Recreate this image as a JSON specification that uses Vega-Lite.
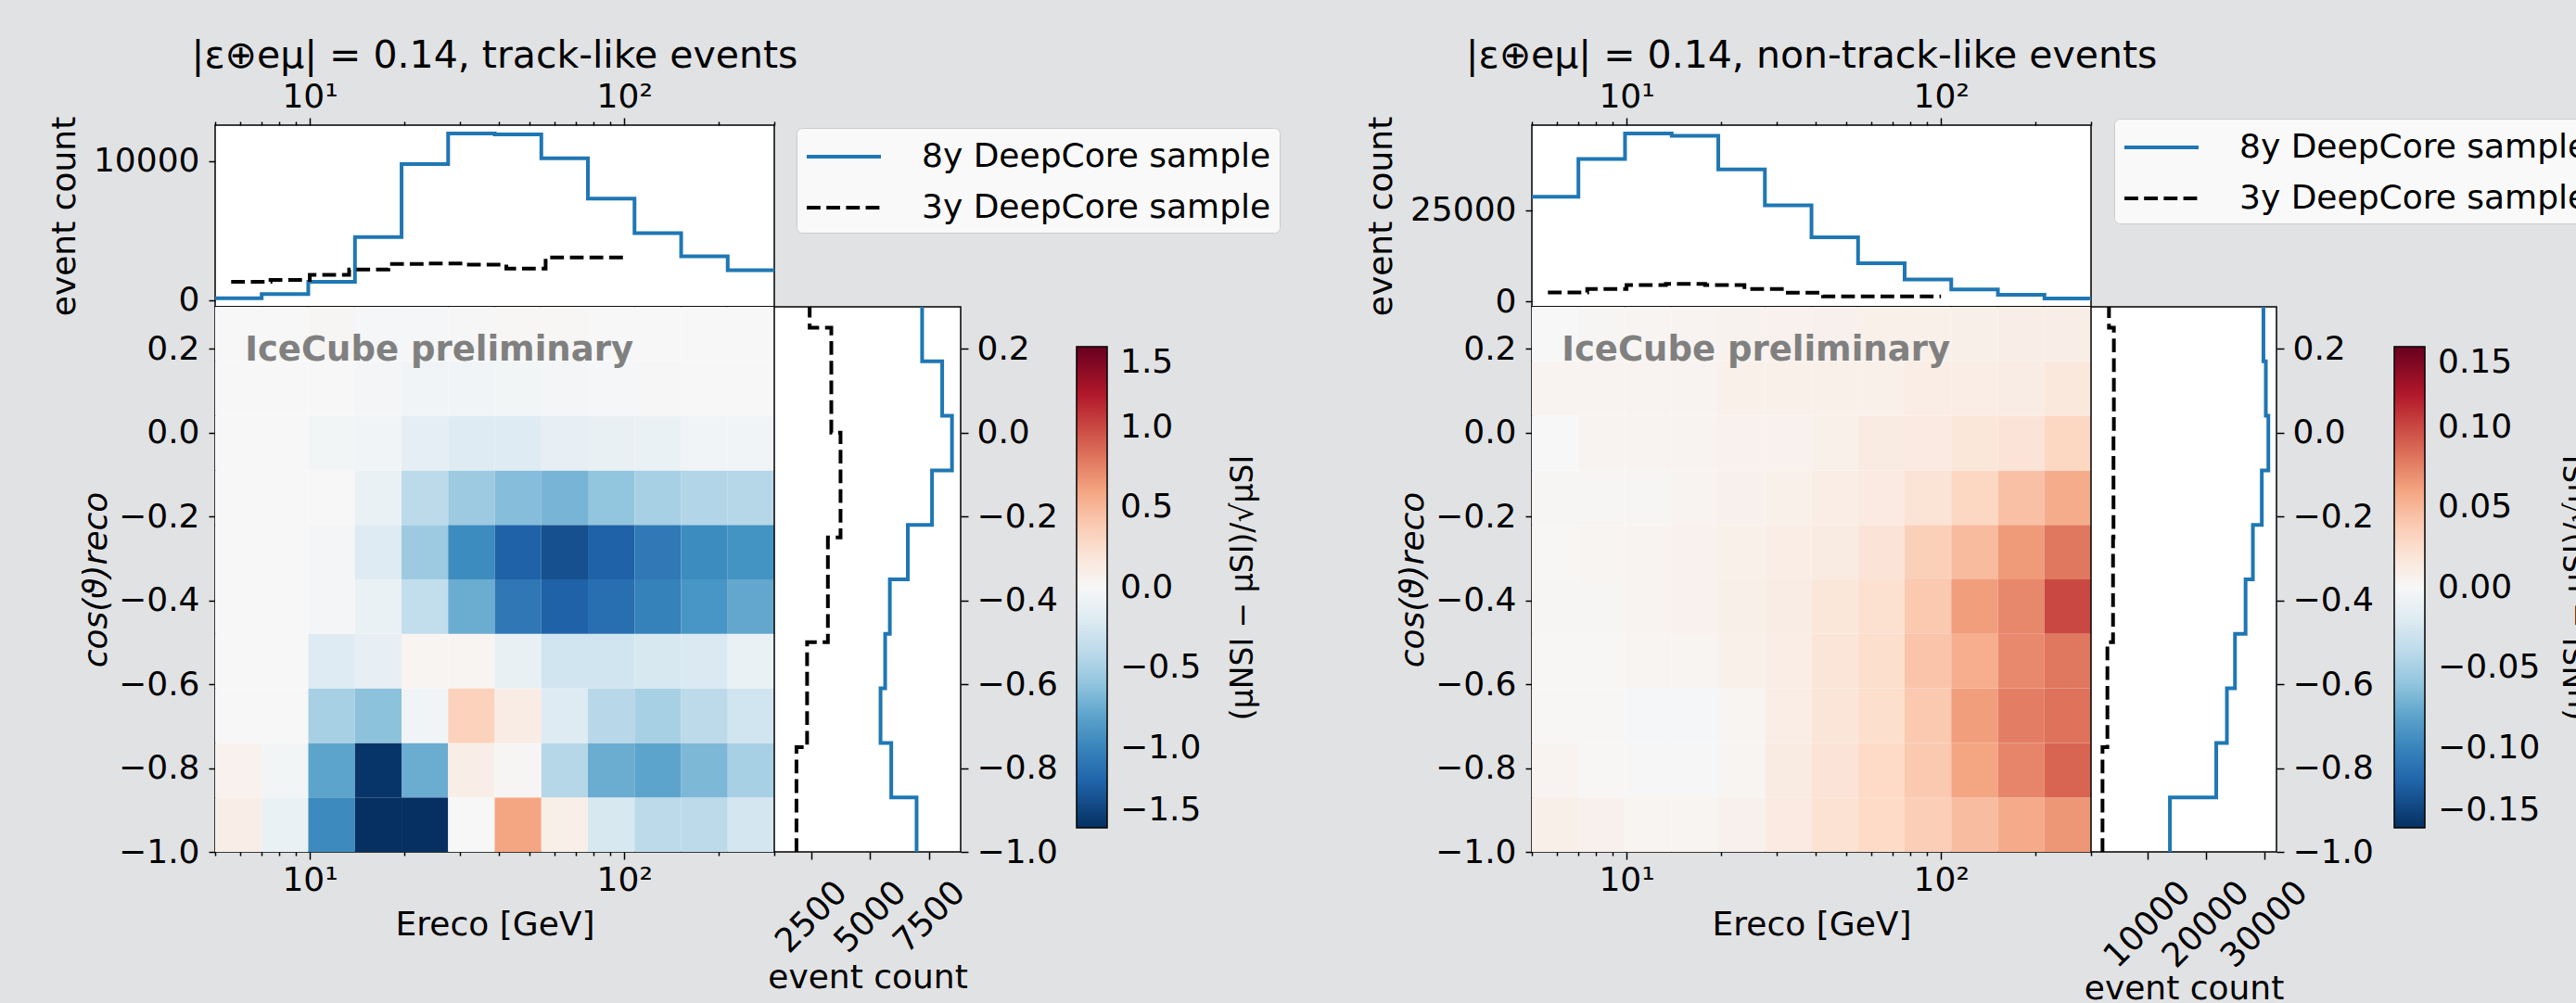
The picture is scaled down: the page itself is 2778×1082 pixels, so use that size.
{
  "$schema": "https://vega.github.io/schema/vega-lite/v6.json",
  "autosize": {"type": "none"},
  "padding": {"left": 232, "top": 135, "right": 2546, "bottom": 947},
  "background": "#e1e2e4",
  "config": {
    "font": "DejaVu Sans",
    "view": {"fill": "white", "stroke": "black", "strokeWidth": 1.5},
    "axis": {
      "domain": false, "grid": false, "ticks": true, "tickColor": "black", "tickWidth": 1.5, "tickSize": 8,
      "labelFont": "DejaVu Sans", "labelFontSize": 36, "labelColor": "black", "labelPadding": 6,
      "labelFlush": false, "labelOverlap": false,
      "titleFont": "DejaVu Sans", "titleFontSize": 36, "titleFontWeight": "normal", "titleColor": "black"
    },
    "legend": {
      "labelFont": "DejaVu Sans", "labelFontSize": 36, "labelColor": "black", "labelLimit": 1000,
      "titleFont": "DejaVu Sans", "titleFontSize": 33, "titleFontWeight": "normal", "titleColor": "black", "titleLimit": 1000
    },
    "title": {"font": "DejaVu Sans", "fontSize": 41, "fontWeight": "normal", "color": "black"}
  },
  "datasets": {
    "ebins": [
      {"k": 1, "e0": 5, "e1": 7.03}, {"k": 2, "e0": 7.03, "e1": 9.89}, {"k": 3, "e0": 9.89, "e1": 13.92},
      {"k": 4, "e0": 13.92, "e1": 19.58}, {"k": 5, "e0": 19.58, "e1": 27.54}, {"k": 6, "e0": 27.54, "e1": 38.74},
      {"k": 7, "e0": 38.74, "e1": 54.49}, {"k": 8, "e0": 54.49, "e1": 76.64}, {"k": 9, "e0": 76.64, "e1": 107.8},
      {"k": 10, "e0": 107.8, "e1": 151.7}, {"k": 11, "e0": 151.7, "e1": 213.3}, {"k": 12, "e0": 213.3, "e1": 300}
    ],
    "trackCells": [
      {"c0": -1, "c1": -0.87, "v": [0.10, -0.10, -0.96, -1.5, -1.5, 0.0, 0.60, 0.09, -0.25, -0.40, -0.40, -0.28]},
      {"c0": -0.87, "c1": -0.74, "v": [0.06, -0.04, -0.80, -1.47, -0.75, 0.10, 0.02, -0.43, -0.75, -0.80, -0.68, -0.50]},
      {"c0": -0.74, "c1": -0.61, "v": [0.0, 0.0, -0.50, -0.62, -0.05, 0.35, 0.12, -0.20, -0.42, -0.50, -0.40, -0.30]},
      {"c0": -0.61, "c1": -0.48, "v": [0.0, 0.0, -0.20, -0.13, 0.03, 0.03, -0.12, -0.30, -0.30, -0.25, -0.22, -0.10]},
      {"c0": -0.48, "c1": -0.35, "v": [0.0, 0.0, -0.03, -0.10, -0.37, -0.75, -1.08, -1.22, -1.14, -1.02, -0.88, -0.78]},
      {"c0": -0.35, "c1": -0.22, "v": [0.0, 0.0, -0.03, -0.20, -0.55, -0.95, -1.22, -1.32, -1.22, -1.07, -0.95, -0.90]},
      {"c0": -0.22, "c1": -0.09, "v": [0.0, 0.0, 0.0, -0.10, -0.40, -0.55, -0.65, -0.70, -0.60, -0.50, -0.45, -0.43]},
      {"c0": -0.09, "c1": 0.04, "v": [0.0, 0.0, -0.04, -0.05, -0.15, -0.20, -0.20, -0.13, -0.11, -0.10, -0.05, -0.05]},
      {"c0": 0.04, "c1": 0.17, "v": [0.0, 0.0, 0.0, -0.03, -0.05, -0.05, -0.04, -0.03, -0.02, -0.01, 0.0, 0.0]},
      {"c0": 0.17, "c1": 0.3, "v": [0.0, 0.0, 0.02, -0.02, -0.02, -0.01, 0.01, 0.01, 0.0, 0.0, 0.0, 0.0]}
    ],
    "cascCells": [
      {"c0": -1, "c1": -0.87, "v": [0.009, 0.007, 0.003, 0.003, 0.007, 0.014, 0.023, 0.030, 0.037, 0.047, 0.057, 0.066]},
      {"c0": -0.87, "c1": -0.74, "v": [0.004, 0.001, -0.001, -0.001, 0.003, 0.013, 0.020, 0.030, 0.040, 0.060, 0.074, 0.088]},
      {"c0": -0.74, "c1": -0.61, "v": [0.001, 0.001, -0.002, -0.002, 0.003, 0.011, 0.019, 0.026, 0.040, 0.063, 0.077, 0.082]},
      {"c0": -0.61, "c1": -0.48, "v": [0.001, 0.001, 0.003, 0.003, 0.008, 0.011, 0.019, 0.026, 0.043, 0.055, 0.072, 0.080]},
      {"c0": -0.48, "c1": -0.35, "v": [0.002, 0.002, 0.004, 0.006, 0.009, 0.012, 0.018, 0.024, 0.040, 0.063, 0.073, 0.100]},
      {"c0": -0.35, "c1": -0.22, "v": [0.001, 0.003, 0.004, 0.006, 0.008, 0.011, 0.013, 0.020, 0.036, 0.048, 0.065, 0.080]},
      {"c0": -0.22, "c1": -0.09, "v": [0.002, 0.002, 0.002, 0.004, 0.007, 0.008, 0.011, 0.014, 0.021, 0.032, 0.045, 0.056]},
      {"c0": -0.09, "c1": 0.04, "v": [0.0, 0.004, 0.004, 0.004, 0.006, 0.006, 0.008, 0.013, 0.014, 0.018, 0.020, 0.032]},
      {"c0": 0.04, "c1": 0.17, "v": [0.004, 0.004, 0.004, 0.004, 0.008, 0.008, 0.008, 0.008, 0.011, 0.011, 0.012, 0.016]},
      {"c0": 0.17, "c1": 0.3, "v": [0.0, 0.002, 0.003, 0.004, 0.005, 0.006, 0.007, 0.008, 0.008, 0.009, 0.010, 0.010]}
    ],
    "trackE": [
      {"s": "8y DeepCore sample", "E": 5, "n": 133}, {"s": "8y DeepCore sample", "E": 7.03, "n": 420},
      {"s": "8y DeepCore sample", "E": 9.89, "n": 1307}, {"s": "8y DeepCore sample", "E": 13.92, "n": 4533},
      {"s": "8y DeepCore sample", "E": 19.58, "n": 9800}, {"s": "8y DeepCore sample", "E": 27.54, "n": 12000},
      {"s": "8y DeepCore sample", "E": 38.74, "n": 11933}, {"s": "8y DeepCore sample", "E": 54.49, "n": 10220},
      {"s": "8y DeepCore sample", "E": 76.64, "n": 7307}, {"s": "8y DeepCore sample", "E": 107.8, "n": 4820},
      {"s": "8y DeepCore sample", "E": 151.7, "n": 3153}, {"s": "8y DeepCore sample", "E": 213.3, "n": 2153},
      {"s": "8y DeepCore sample", "E": 300, "n": 2153},
      {"s": "3y DeepCore sample", "E": 5.623, "n": 1307}, {"s": "3y DeepCore sample", "E": 7.499, "n": 1440},
      {"s": "3y DeepCore sample", "E": 10, "n": 1820}, {"s": "3y DeepCore sample", "E": 13.34, "n": 2200},
      {"s": "3y DeepCore sample", "E": 17.78, "n": 2600}, {"s": "3y DeepCore sample", "E": 23.71, "n": 2640},
      {"s": "3y DeepCore sample", "E": 31.62, "n": 2553}, {"s": "3y DeepCore sample", "E": 42.17, "n": 2267},
      {"s": "3y DeepCore sample", "E": 56.23, "n": 3067}, {"s": "3y DeepCore sample", "E": 74.99, "n": 3067},
      {"s": "3y DeepCore sample", "E": 100, "n": 3067}
    ],
    "cascE": [
      {"s": "8y DeepCore sample", "E": 5, "n": 28600}, {"s": "8y DeepCore sample", "E": 7.03, "n": 38900},
      {"s": "8y DeepCore sample", "E": 9.89, "n": 45870}, {"s": "8y DeepCore sample", "E": 13.92, "n": 45200},
      {"s": "8y DeepCore sample", "E": 19.58, "n": 36070}, {"s": "8y DeepCore sample", "E": 27.54, "n": 26260},
      {"s": "8y DeepCore sample", "E": 38.74, "n": 17530}, {"s": "8y DeepCore sample", "E": 54.49, "n": 10490},
      {"s": "8y DeepCore sample", "E": 76.64, "n": 6060}, {"s": "8y DeepCore sample", "E": 107.8, "n": 3370},
      {"s": "8y DeepCore sample", "E": 151.7, "n": 1860}, {"s": "8y DeepCore sample", "E": 213.3, "n": 855},
      {"s": "8y DeepCore sample", "E": 300, "n": 855},
      {"s": "3y DeepCore sample", "E": 5.623, "n": 2540}, {"s": "3y DeepCore sample", "E": 7.499, "n": 3450},
      {"s": "3y DeepCore sample", "E": 10, "n": 4550}, {"s": "3y DeepCore sample", "E": 13.34, "n": 4880},
      {"s": "3y DeepCore sample", "E": 17.78, "n": 4550}, {"s": "3y DeepCore sample", "E": 23.71, "n": 3450},
      {"s": "3y DeepCore sample", "E": 31.62, "n": 2440}, {"s": "3y DeepCore sample", "E": 42.17, "n": 1430},
      {"s": "3y DeepCore sample", "E": 56.23, "n": 1430}, {"s": "3y DeepCore sample", "E": 74.99, "n": 1430},
      {"s": "3y DeepCore sample", "E": 100, "n": 1430}
    ],
    "trackC": [
      {"s": "8y DeepCore sample", "c": -1, "n": 6963}, {"s": "8y DeepCore sample", "c": -0.87, "n": 5890},
      {"s": "8y DeepCore sample", "c": -0.74, "n": 5436}, {"s": "8y DeepCore sample", "c": -0.61, "n": 5632},
      {"s": "8y DeepCore sample", "c": -0.48, "n": 5830}, {"s": "8y DeepCore sample", "c": -0.35, "n": 6591},
      {"s": "8y DeepCore sample", "c": -0.22, "n": 7617}, {"s": "8y DeepCore sample", "c": -0.09, "n": 8463},
      {"s": "8y DeepCore sample", "c": 0.04, "n": 8048}, {"s": "8y DeepCore sample", "c": 0.17, "n": 7198},
      {"s": "8y DeepCore sample", "c": 0.3, "n": 7198},
      {"s": "3y DeepCore sample", "c": -1, "n": 1874}, {"s": "3y DeepCore sample", "c": -0.75, "n": 2324},
      {"s": "3y DeepCore sample", "c": -0.5, "n": 3205}, {"s": "3y DeepCore sample", "c": -0.25, "n": 3741},
      {"s": "3y DeepCore sample", "c": 0, "n": 3350}, {"s": "3y DeepCore sample", "c": 0.25, "n": 2433},
      {"s": "3y DeepCore sample", "c": 0.5, "n": 2433}
    ],
    "cascC": [
      {"s": "8y DeepCore sample", "c": -1, "n": 13887}, {"s": "8y DeepCore sample", "c": -0.87, "n": 21800},
      {"s": "8y DeepCore sample", "c": -0.74, "n": 23620}, {"s": "8y DeepCore sample", "c": -0.61, "n": 25000},
      {"s": "8y DeepCore sample", "c": -0.48, "n": 26810}, {"s": "8y DeepCore sample", "c": -0.35, "n": 28060},
      {"s": "8y DeepCore sample", "c": -0.22, "n": 29580}, {"s": "8y DeepCore sample", "c": -0.09, "n": 30700},
      {"s": "8y DeepCore sample", "c": 0.04, "n": 30270}, {"s": "8y DeepCore sample", "c": 0.17, "n": 29860},
      {"s": "8y DeepCore sample", "c": 0.3, "n": 29860},
      {"s": "3y DeepCore sample", "c": -1, "n": 2370}, {"s": "3y DeepCore sample", "c": -0.75, "n": 3206},
      {"s": "3y DeepCore sample", "c": -0.5, "n": 4170}, {"s": "3y DeepCore sample", "c": -0.25, "n": 4250},
      {"s": "3y DeepCore sample", "c": 0, "n": 4312}, {"s": "3y DeepCore sample", "c": 0.25, "n": 3475},
      {"s": "3y DeepCore sample", "c": 0.5, "n": 3475}
    ]
  },
  "columns": 4,
  "spacing": 0,
  "bounds": "flush",
  "align": "each",
  "resolve": {
    "scale": {"fill": "independent", "stroke": "independent", "strokeDash": "independent"},
    "legend": {"fill": "independent", "stroke": "independent", "strokeDash": "independent"}
  },
  "concat": [
    {
      "width": 603, "height": 196,
      "title": {"text": "|ε⊕eμ| = 0.14, track-like events", "anchor": "middle", "offset": 4},
      "data": {"name": "trackE"},
      "resolve": {"axis": {"x": "independent"}},
      "layer": [
        {
          "mark": {"type": "line", "interpolate": "step-after", "strokeWidth": 4, "clip": true},
          "encoding": {
            "x": {"field": "E", "type": "quantitative", "scale": {"type": "log", "domain": [5, 300], "nice": false},
                  "axis": {"orient": "top", "values": [10, 100], "labelExpr": "datum.value == 10 ? '10¹' : '10²'", "title": null, "labelPadding": 4}},
            "y": {"field": "n", "type": "quantitative", "scale": {"domain": [-490, 12600], "nice": false, "zero": false},
                  "axis": {"values": [0, 10000], "format": "d", "title": "event count", "titleX": -152, "titleBaseline": "alphabetic", "tickSize": 7, "labelPadding": 10}},
            "stroke": {"field": "s", "type": "nominal", "sort": null,
                       "scale": {"domain": ["8y DeepCore sample", "3y DeepCore sample"], "range": ["#1f77b4", "#000000"]},
                       "legend": {"orient": "none", "legendX": 627, "legendY": 3, "title": null, "symbolType": "M-2,0H2", "symbolSize": 1600, "symbolStrokeWidth": 4, "symbolOffset": 20, "labelOffset": 62, "padding": 9, "rowPadding": 15, "fillColor": "rgba(255,255,255,0.8)", "strokeColor": "#cccccc", "cornerRadius": 6}},
            "strokeDash": {"field": "s", "type": "nominal", "sort": null,
                           "scale": {"domain": ["8y DeepCore sample", "3y DeepCore sample"], "range": [[1, 0], [14.8, 6.4]]},
                           "legend": {"orient": "none", "legendX": 627, "legendY": 3, "title": null, "symbolType": "M-2,0H2", "symbolSize": 1600, "symbolStrokeWidth": 4, "symbolOffset": 20, "labelOffset": 62, "padding": 9, "rowPadding": 15, "fillColor": "rgba(255,255,255,0.8)", "strokeColor": "#cccccc", "cornerRadius": 6}}
          }
        },
        {
          "mark": {"type": "line", "opacity": 0},
          "encoding": {
            "x": {"field": "E", "type": "quantitative", "scale": {"type": "log", "domain": [5, 300], "nice": false},
                  "axis": {"orient": "top", "values": [5, 6, 7, 8, 9, 20, 30, 40, 50, 60, 70, 80, 90, 200, 300], "labels": false, "tickSize": 4, "title": null}}
          }
        }
      ]
    },
    {
      "width": 817, "height": 196,
      "view": {"stroke": null, "fill": null},
      "data": {"values": [{}]},
      "mark": {"type": "point", "opacity": 0},
      "encoding": {}
    },
    {
      "width": 603, "height": 196,
      "title": {"text": "|ε⊕eμ| = 0.14, non-track-like events", "anchor": "middle", "offset": 4},
      "data": {"name": "cascE"},
      "resolve": {"axis": {"x": "independent"}},
      "layer": [
        {
          "mark": {"type": "line", "interpolate": "step-after", "strokeWidth": 4, "clip": true},
          "encoding": {
            "x": {"field": "E", "type": "quantitative", "scale": {"type": "log", "domain": [5, 300], "nice": false},
                  "axis": {"orient": "top", "values": [10, 100], "labelExpr": "datum.value == 10 ? '10¹' : '10²'", "title": null, "labelPadding": 4}},
            "y": {"field": "n", "type": "quantitative", "scale": {"domain": [-1395, 48120], "nice": false, "zero": false},
                  "axis": {"values": [0, 25000], "format": "d", "title": "event count", "titleX": -152, "titleBaseline": "alphabetic", "tickSize": 7, "labelPadding": 10}},
            "stroke": {"field": "s", "type": "nominal", "sort": null,
                       "scale": {"domain": ["8y DeepCore sample", "3y DeepCore sample"], "range": ["#1f77b4", "#000000"]},
                       "legend": {"orient": "none", "legendX": 628, "legendY": -7, "title": null, "symbolType": "M-2,0H2", "symbolSize": 1600, "symbolStrokeWidth": 4, "symbolOffset": 20, "labelOffset": 62, "padding": 9, "rowPadding": 15, "fillColor": "rgba(255,255,255,0.8)", "strokeColor": "#cccccc", "cornerRadius": 6}},
            "strokeDash": {"field": "s", "type": "nominal", "sort": null,
                           "scale": {"domain": ["8y DeepCore sample", "3y DeepCore sample"], "range": [[1, 0], [14.8, 6.4]]},
                           "legend": {"orient": "none", "legendX": 628, "legendY": -7, "title": null, "symbolType": "M-2,0H2", "symbolSize": 1600, "symbolStrokeWidth": 4, "symbolOffset": 20, "labelOffset": 62, "padding": 9, "rowPadding": 15, "fillColor": "rgba(255,255,255,0.8)", "strokeColor": "#cccccc", "cornerRadius": 6}}
          }
        },
        {
          "mark": {"type": "line", "opacity": 0},
          "encoding": {
            "x": {"field": "E", "type": "quantitative", "scale": {"type": "log", "domain": [5, 300], "nice": false},
                  "axis": {"orient": "top", "values": [5, 6, 7, 8, 9, 20, 30, 40, 50, 60, 70, 80, 90, 200, 300], "labels": false, "tickSize": 4, "title": null}}
          }
        }
      ]
    },
    {
      "width": 200, "height": 196,
      "view": {"stroke": null, "fill": null},
      "data": {"values": [{}]},
      "mark": {"type": "point", "opacity": 0},
      "encoding": {}
    },
    {
      "width": 603, "height": 588,
      "resolve": {"axis": {"x": "independent"}},
      "layer": [
        {
          "data": {"name": "trackCells"},
          "transform": [
            {"flatten": ["v"]},
            {"window": [{"op": "row_number", "as": "k"}], "groupby": ["c0"]},
            {"lookup": "k", "from": {"data": {"name": "ebins"}, "key": "k", "fields": ["e0", "e1"]}}
          ],
          "mark": {"type": "rect"},
          "encoding": {
            "x": {"field": "e0", "type": "quantitative", "scale": {"type": "log", "domain": [5, 300], "nice": false},
                  "axis": {"orient": "bottom", "values": [10, 100], "labelExpr": "datum.value == 10 ? '10¹' : '10²'", "labelPadding": 5, "title": "Ereco [GeV]", "titleY": 89, "titleBaseline": "alphabetic"}},
            "x2": {"field": "e1"},
            "y": {"field": "c0", "type": "quantitative", "scale": {"domain": [-1, 0.3], "nice": false, "zero": false},
                  "axis": {"values": [-1, -0.8, -0.6, -0.4, -0.2, 0, 0.2], "format": ".1f", "tickSize": 7, "labelPadding": 10, "title": "cos(ϑ)reco", "titleFontStyle": "italic", "titleX": -118, "titleBaseline": "alphabetic"}},
            "y2": {"field": "c1"},
            "fill": {"field": "v", "type": "quantitative",
                     "scale": {"type": "linear", "domain": [-1.5, -1.2, -0.9, -0.6, -0.3, 0, 0.3, 0.6, 0.9, 1.2, 1.5],
                               "range": ["#053061", "#2166ac", "#4393c3", "#92c5de", "#d1e5f0", "#f7f7f7", "#fddbc7", "#f4a582", "#d6604d", "#b2182b", "#67001f"],
                               "interpolate": "rgb", "clamp": true},
                     "legend": {"orient": "none", "legendX": 929, "legendY": 43, "direction": "vertical", "gradientLength": 519, "gradientThickness": 33, "gradientStrokeColor": "black", "gradientStrokeWidth": 1.5, "values": [-1.5, -1, -0.5, 0, 0.5, 1, 1.5], "format": ".1f", "labelOffset": 14, "labelBaseline": "middle", "title": "(μNSI − μSI)/√μSI", "titleOrient": "right", "titleAnchor": "middle", "titlePadding": 30, "padding": 0,
                                "encode": {"title": {"update": {"angle": {"value": 270}, "baseline": {"value": "top"}}}}}}
          }
        },
        {
          "data": {"name": "ebins"},
          "mark": {"type": "tick", "opacity": 0},
          "encoding": {
            "x": {"field": "e0", "type": "quantitative", "scale": {"type": "log", "domain": [5, 300], "nice": false},
                  "axis": {"orient": "bottom", "values": [5, 6, 7, 8, 9, 20, 30, 40, 50, 60, 70, 80, 90, 200, 300], "labels": false, "tickSize": 4, "title": null}}
          }
        },
        {
          "data": {"values": [{}]},
          "mark": {"type": "text", "font": "DejaVu Sans", "fontWeight": "bold", "fontSize": 37, "color": "#808080", "align": "left", "baseline": "alphabetic"},
          "encoding": {
            "x": {"datum": 6.22, "type": "quantitative", "scale": {"type": "log", "domain": [5, 300], "nice": false}, "axis": null},
            "y": {"datum": 0.172, "type": "quantitative"},
            "text": {"value": "IceCube preliminary"}
          }
        }
      ]
    },
    {
      "width": 201, "height": 588,
      "data": {"name": "trackC"},
      "mark": {"type": "line", "interpolate": "step-before", "strokeWidth": 4, "clip": true},
      "encoding": {
        "x": {"field": "n", "type": "quantitative", "scale": {"domain": [934, 8831], "nice": false, "zero": false},
              "axis": {"values": [2500, 5000, 7500], "format": "d", "labelAngle": -45, "labelAlign": "center", "labelBaseline": "middle", "labelPadding": 62, "title": "event count", "titleY": 146, "titleBaseline": "alphabetic"}},
        "y": {"field": "c", "type": "quantitative", "scale": {"domain": [-1, 0.3], "nice": false, "zero": false},
              "axis": {"orient": "right", "values": [-1, -0.8, -0.6, -0.4, -0.2, 0, 0.2], "format": ".1f", "title": null, "labelPadding": 9}},
        "order": {"field": "c", "type": "quantitative"},
        "stroke": {"field": "s", "type": "nominal", "scale": {"domain": ["8y DeepCore sample", "3y DeepCore sample"], "range": ["#1f77b4", "#000000"]}, "legend": null},
        "strokeDash": {"field": "s", "type": "nominal", "scale": {"domain": ["8y DeepCore sample", "3y DeepCore sample"], "range": [[1, 0], [14.8, 6.4]]}, "legend": null}
      }
    },
    {
      "width": 603, "height": 588,
      "resolve": {"axis": {"x": "independent"}},
      "layer": [
        {
          "data": {"name": "cascCells"},
          "transform": [
            {"flatten": ["v"]},
            {"window": [{"op": "row_number", "as": "k"}], "groupby": ["c0"]},
            {"lookup": "k", "from": {"data": {"name": "ebins"}, "key": "k", "fields": ["e0", "e1"]}}
          ],
          "mark": {"type": "rect"},
          "encoding": {
            "x": {"field": "e0", "type": "quantitative", "scale": {"type": "log", "domain": [5, 300], "nice": false},
                  "axis": {"orient": "bottom", "values": [10, 100], "labelExpr": "datum.value == 10 ? '10¹' : '10²'", "labelPadding": 5, "title": "Ereco [GeV]", "titleY": 89, "titleBaseline": "alphabetic"}},
            "x2": {"field": "e1"},
            "y": {"field": "c0", "type": "quantitative", "scale": {"domain": [-1, 0.3], "nice": false, "zero": false},
                  "axis": {"values": [-1, -0.8, -0.6, -0.4, -0.2, 0, 0.2], "format": ".1f", "tickSize": 7, "labelPadding": 10, "title": "cos(ϑ)reco", "titleFontStyle": "italic", "titleX": -118, "titleBaseline": "alphabetic"}},
            "y2": {"field": "c1"},
            "fill": {"field": "v", "type": "quantitative",
                     "scale": {"type": "linear", "domain": [-0.15, -0.12, -0.09, -0.06, -0.03, 0, 0.03, 0.06, 0.09, 0.12, 0.15],
                               "range": ["#053061", "#2166ac", "#4393c3", "#92c5de", "#d1e5f0", "#f7f7f7", "#fddbc7", "#f4a582", "#d6604d", "#b2182b", "#67001f"],
                               "interpolate": "rgb", "clamp": true},
                     "legend": {"orient": "none", "legendX": 930, "legendY": 43, "direction": "vertical", "gradientLength": 519, "gradientThickness": 33, "gradientStrokeColor": "black", "gradientStrokeWidth": 1.5, "values": [-0.15, -0.1, -0.05, 0, 0.05, 0.1, 0.15], "format": ".2f", "labelOffset": 14, "labelBaseline": "middle", "title": "(μNSI − μSI)/√μSI", "titleOrient": "right", "titleAnchor": "middle", "titlePadding": 24, "padding": 0,
                                "encode": {"title": {"update": {"angle": {"value": 270}, "baseline": {"value": "top"}}}}}}
          }
        },
        {
          "data": {"name": "ebins"},
          "mark": {"type": "tick", "opacity": 0},
          "encoding": {
            "x": {"field": "e0", "type": "quantitative", "scale": {"type": "log", "domain": [5, 300], "nice": false},
                  "axis": {"orient": "bottom", "values": [5, 6, 7, 8, 9, 20, 30, 40, 50, 60, 70, 80, 90, 200, 300], "labels": false, "tickSize": 4, "title": null}}
          }
        },
        {
          "data": {"values": [{}]},
          "mark": {"type": "text", "font": "DejaVu Sans", "fontWeight": "bold", "fontSize": 37, "color": "#808080", "align": "left", "baseline": "alphabetic"},
          "encoding": {
            "x": {"datum": 6.22, "type": "quantitative", "scale": {"type": "log", "domain": [5, 300], "nice": false}, "axis": null},
            "y": {"datum": 0.172, "type": "quantitative"},
            "text": {"value": "IceCube preliminary"}
          }
        }
      ]
    },
    {
      "width": 200, "height": 588,
      "data": {"name": "cascC"},
      "mark": {"type": "line", "interpolate": "step-before", "strokeWidth": 4, "clip": true},
      "encoding": {
        "x": {"field": "n", "type": "quantitative", "scale": {"domain": [410, 32090], "nice": false, "zero": false},
              "axis": {"values": [10000, 20000, 30000], "format": "d", "labelAngle": -45, "labelAlign": "center", "labelBaseline": "middle", "labelPadding": 70, "title": "event count", "titleY": 158, "titleBaseline": "alphabetic"}},
        "y": {"field": "c", "type": "quantitative", "scale": {"domain": [-1, 0.3], "nice": false, "zero": false},
              "axis": {"orient": "right", "values": [-1, -0.8, -0.6, -0.4, -0.2, 0, 0.2], "format": ".1f", "title": null, "labelPadding": 9}},
        "order": {"field": "c", "type": "quantitative"},
        "stroke": {"field": "s", "type": "nominal", "scale": {"domain": ["8y DeepCore sample", "3y DeepCore sample"], "range": ["#1f77b4", "#000000"]}, "legend": null},
        "strokeDash": {"field": "s", "type": "nominal", "scale": {"domain": ["8y DeepCore sample", "3y DeepCore sample"], "range": [[1, 0], [14.8, 6.4]]}, "legend": null}
      }
    }
  ]
}
